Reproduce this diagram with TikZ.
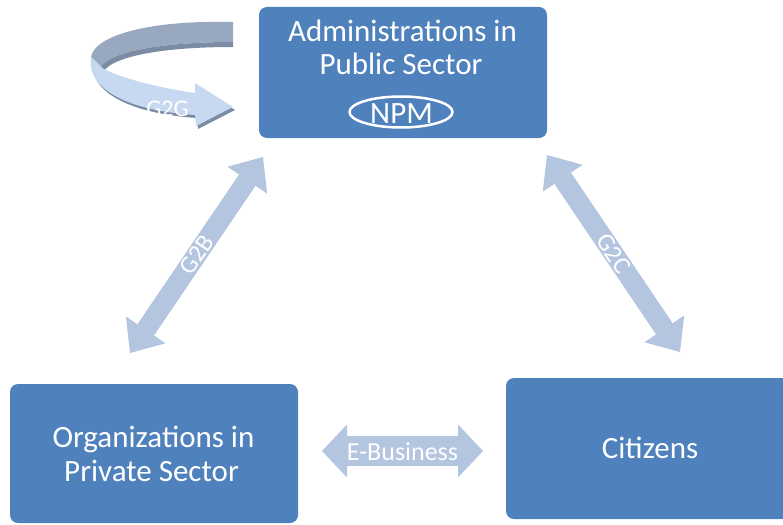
\documentclass[tikz,border=0pt]{standalone}
\usepackage{fontspec}
\setmainfont{Carlito}
\usetikzlibrary{arrows.meta}
\definecolor{boxblue}{RGB}{79,129,189}
\definecolor{linkblue}{RGB}{180,197,224}
\definecolor{bandgray}{RGB}{152,168,190}
\definecolor{bandshade}{RGB}{122,139,163}
\definecolor{bandlight}{RGB}{198,217,241}
\tikzset{
  box/.style={fill=boxblue, rounded corners=8pt, inner sep=0pt},
  boxtext/.style={text=white, anchor=base, inner sep=0pt, font=\fontsize{31}{34}\selectfont},
  linklabel/.style={text=white, inner sep=0pt, font=\fontsize{25}{25}\selectfont},
  govlink/.style={draw=linkblue, line width=20pt,
    {Triangle[length=28pt,width=48pt,line width=0pt]}-{Triangle[length=28pt,width=48pt,line width=0pt]}},
  bizlink/.style={draw=linkblue, line width=30pt,
    {Triangle[length=25pt,width=53pt,line width=0pt]}-{Triangle[length=25pt,width=53pt,line width=0pt]}}
}
\begin{document}
\begin{tikzpicture}[x=1pt,y=1pt,yscale=-1,xscale=1]
\useasboundingbox (0,0) rectangle (783,524);

%Rounded Rect [public sector]
\node[box, minimum width=288pt, minimum height=131pt] (pub) at (403,72.5) {};
%Rounded Rect [private sector]
\node[box, minimum width=288pt, minimum height=139pt] (priv) at (154,453.5) {};
%Rounded Rect [citizens]
\node[box, minimum width=294pt, minimum height=141pt] (cit) at (653,448.5) {};

% Text Node
\node[boxtext] (pubA) at (402.5,42) {Administrations in};
% Text Node
\node[boxtext] (pubB) at (401,75) {Public Sector};
% Text Node
\node[boxtext] (npm) at (401.5,123) {NPM};
%Ellipse
\draw[white, line width=2.5pt] (401,112) ellipse (51.5 and 15.5);
% Text Node
\node[boxtext] (privA) at (153.5,447) {Organizations in};
% Text Node
\node[boxtext] (privB) at (151.5,481) {Private Sector};
% Text Node
\node[boxtext] (citA) at (650,458) {Citizens};

%Curved Arrow [G2G]
% back of the band
\fill[bandgray] (233,22) .. controls (150,20) and (95,35) .. (91,57) -- (101,67) .. controls (110,52) and (160,42) .. (233,42) -- cycle;
% rim under the back
\fill[bandshade] (233,42) -- (233,47) .. controls (160,47) and (113,57) .. (104,71) -- (101,67) .. controls (110,52) and (160,42) .. (233,42) -- cycle;
% shadow of the front
\begin{scope}[shift={(2,3)}]
\fill[bandshade] (91,57) .. controls (86,85) and (120,110) .. (195,115) -- (196,126) -- (233,107) -- (195,83) -- (195,93) .. controls (140,85) and (107,72) .. (101,67) -- cycle;
\end{scope}
% front of the band
\fill[bandlight] (91,57) .. controls (86,85) and (120,110) .. (195,115) -- (196,126) -- (233,107) -- (195,83) -- (195,93) .. controls (140,85) and (107,72) .. (101,67) -- cycle;
% Text Node
\node[linklabel, anchor=base, font=\fontsize{24}{24}\selectfont] (g2g) at (167.5,116.5) {G2G};

%Block Arrows
\coordinate (g2bA) at (130,353);
\coordinate (g2bB) at (263,157);
\coordinate (g2cA) at (547,155);
\coordinate (g2cB) at (680,352);
\coordinate (bizA) at (322,451);
\coordinate (bizB) at (483,451);
\draw[govlink] (g2bA) -- node[linklabel, rotate=55.8] (g2b) {G2B} (g2bB);
\draw[govlink] (g2cA) -- node[linklabel, rotate=-56] (g2c) {G2C} (g2cB);
\draw[bizlink] (bizA) -- node[linklabel, yshift=-1pt, font=\fontsize{26}{26}\selectfont] (biz) {E-Business} (bizB);

\end{tikzpicture}
\end{document}
